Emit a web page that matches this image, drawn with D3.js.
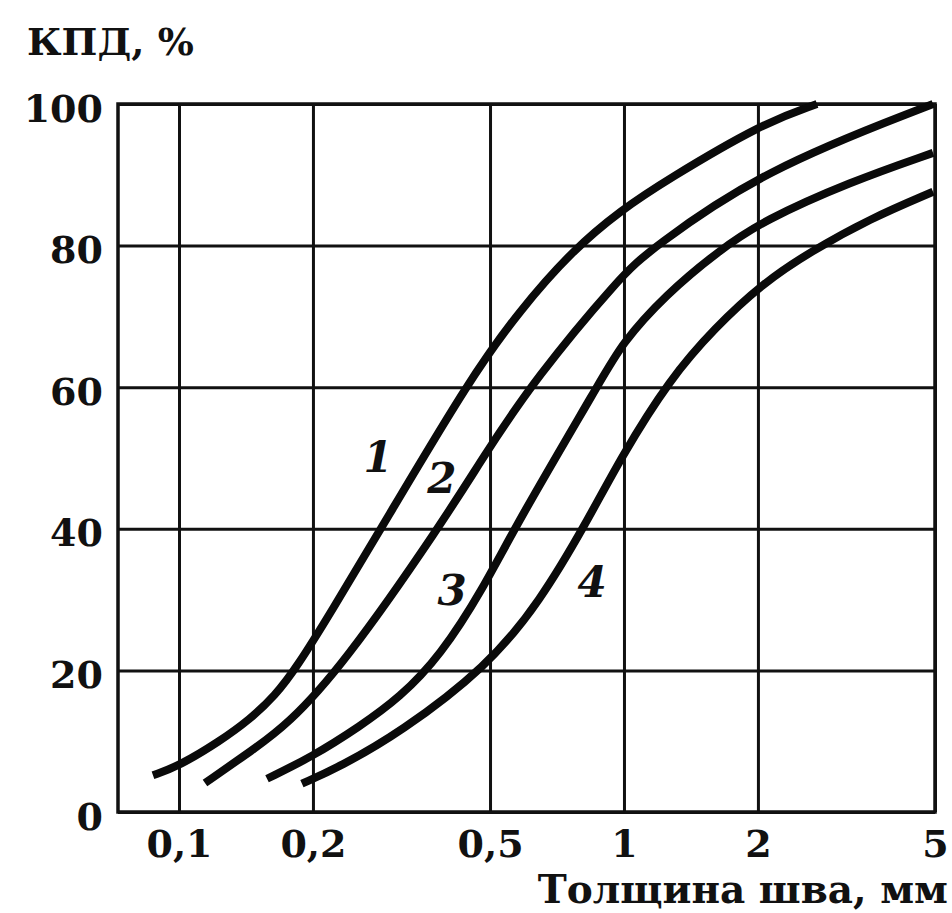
<!DOCTYPE html>
<html>
<head>
<meta charset="utf-8">
<script src="https://cdn.jsdelivr.net/npm/d3@7"></script>
<style>
  html, body { margin: 0; padding: 0; background: #fff; }
  svg { display: block; }
  text { font-family: "DejaVu Serif", "Liberation Serif", serif; fill: #111; }
</style>
</head>
<body>
<svg id="chart" width="952" height="913"></svg>
<script>
// Weld thickness (mm) on a log axis against efficiency (%)
const xTicks = [0.1, 0.2, 0.5, 1, 2, 5];
const yTicks = [0, 20, 40, 60, 80, 100];
const yTitle = "КПД, %";
const xTitle = "Толщина шва, мм";
const curveNames = ["1", "2", "3", "4"];

const thickness1 = [0.0874, 0.1, 0.1236, 0.1444, 0.1643, 0.1842, 0.2185, 0.2904, 0.4508, 0.5839, 0.7684, 0.9847, 1.2496, 2.053, 2.715];
const efficiency1 = [5.2, 6.5, 10.0, 13.1, 16.4, 20.5, 28.0, 41.0, 61.2, 70.9, 79.4, 85.0, 89.3, 97.3, 100];

const thickness2 = [0.1144, 0.1467, 0.1748, 0.2324, 0.392, 0.4822, 0.631, 0.9847, 1.1437, 2.053, 4.95];
const efficiency2 = [4.1, 8.8, 12.3, 20.5, 41.0, 50.1, 61.2, 75.7, 79.4, 90.7, 100];

const thickness3 = [0.1577, 0.199, 0.2551, 0.3138, 0.3859, 0.4822, 0.5749, 0.8925, 0.9847, 1.2366, 1.643, 2.053, 3.221, 4.95];
const efficiency3 = [4.7, 7.8, 12.1, 16.2, 22.0, 31.5, 40.8, 61.2, 66.0, 73.0, 79.4, 83.5, 89.0, 93.1];

const thickness4 = [0.1889, 0.23, 0.3138, 0.4923, 0.6474, 0.8258, 0.9847, 1.2691, 1.601, 2.053, 2.618, 3.572, 4.95];
const efficiency4 = [4.0, 6.4, 11.2, 20.5, 29.7, 41.0, 50.1, 61.2, 68.4, 74.7, 79.1, 83.8, 87.6];

// where each curve number sits: [thickness, efficiency]
const labelAt = [[0.2801, 50.1], [0.3899, 47.2], [0.4107, 31.4], [0.8475, 32.5]];

const series = [
  [thickness1, efficiency1],
  [thickness2, efficiency2],
  [thickness3, efficiency3],
  [thickness4, efficiency4]
];

const plotLeft = 118, plotRight = 935, plotTop = 104, plotBottom = 812;

const x = d3.scaleLog().domain([0.1, 5]).range([179, plotRight]);
const xMin = x.invert(plotLeft);
const y = d3.scaleLinear().domain([0, 100]).range([plotBottom, plotTop]);

const svg = d3.select("#chart");

// grid lines from the axes
const xAxis = d3.axisBottom(x)
  .tickValues(xTicks)
  .tickSize(-(plotBottom - plotTop))
  .tickPadding(14)
  .tickFormat(d => String(d).replace(".", ","));

const gx = svg.append("g")
  .attr("transform", `translate(0,${plotBottom})`)
  .call(xAxis);
gx.select(".domain").remove();
gx.selectAll("line").attr("stroke", "#111").attr("stroke-width", 3);
gx.selectAll("text")
  .attr("font-size", 38)
  .attr("font-weight", "bold")
  .attr("fill", "#111")
  .attr("dy", "0.82em");

const yAxis = d3.axisLeft(y)
  .tickValues(yTicks)
  .tickSize(-(plotRight - plotLeft))
  .tickPadding(15);

const gy = svg.append("g")
  .attr("transform", `translate(${plotLeft},0)`)
  .call(yAxis);
gy.select(".domain").remove();
gy.selectAll("line").attr("stroke", "#111").attr("stroke-width", 3);
gy.selectAll("text")
  .attr("font-size", 38)
  .attr("font-weight", "bold")
  .attr("fill", "#111")
  .attr("dy", "0.45em");

// plot frame
svg.append("rect")
  .attr("x", x(xMin)).attr("y", y(100))
  .attr("width", x(5) - x(xMin)).attr("height", y(0) - y(100))
  .attr("fill", "none").attr("stroke", "#111").attr("stroke-width", 3.5);

// efficiency curves
const line = d3.line()
  .x(d => x(d[0]))
  .y(d => y(d[1]))
  .curve(d3.curveBasis);

svg.append("g").selectAll("path")
  .data(series.map(([xs, ys]) => xs.map((v, i) => [v, ys[i]])))
  .join("path")
  .attr("d", line)
  .attr("fill", "none")
  .attr("stroke", "#0a0a0a")
  .attr("stroke-width", 8)
  .attr("stroke-linecap", "butt");

// curve numbers
svg.append("g").selectAll("text")
  .data(curveNames)
  .join("text")
  .attr("x", (d, i) => x(labelAt[i][0]))
  .attr("y", (d, i) => y(labelAt[i][1]))
  .attr("text-anchor", "middle")
  .attr("dy", "0.36em")
  .attr("font-size", 42)
  .attr("font-style", "italic")
  .attr("font-weight", "bold")
  .text(d => d);

// axis titles
svg.append("text")
  .attr("x", 27).attr("y", 55)
  .attr("font-size", 38)
  .attr("font-weight", "bold")
  .text(yTitle);

svg.append("text")
  .attr("x", 948).attr("y", 903)
  .attr("text-anchor", "end")
  .attr("font-size", 39)
  .attr("font-weight", "bold")
  .text(xTitle);
</script>
</body>
</html>
